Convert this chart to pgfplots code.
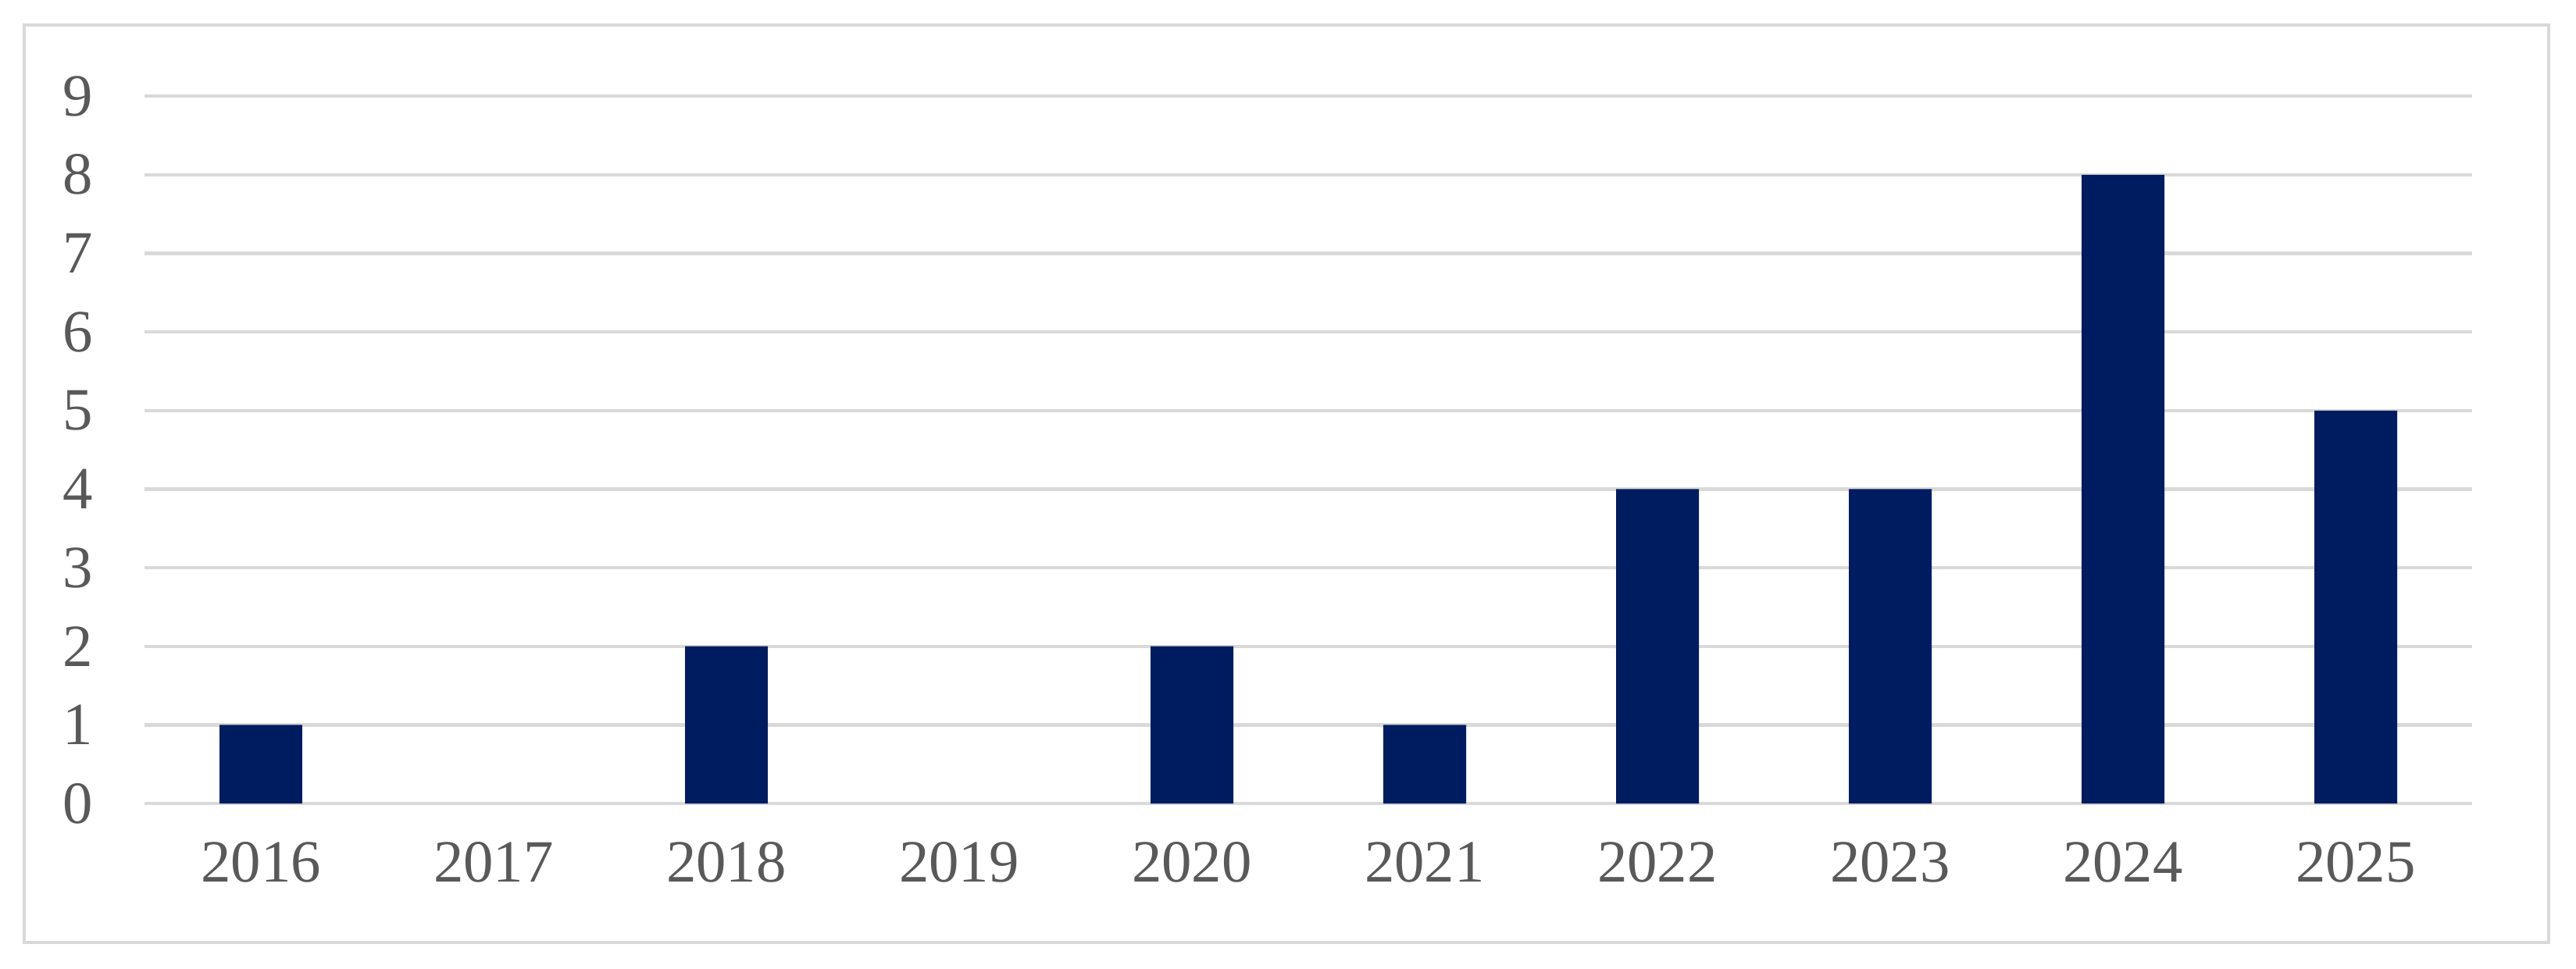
\documentclass[border=0pt]{standalone}
\usepackage{fontspec}
\setmainfont{Liberation Serif}
\usepackage{pgfplots}
\pgfplotsset{compat=1.18}
\definecolor{barnavy}{RGB}{0,28,96}
\definecolor{gridgray}{RGB}{217,217,217}
\definecolor{labelgray}{RGB}{89,89,89}

\begin{document}
\begin{tikzpicture}
% page size and outer chart frame (axis origin = lower left of plot area)
\path[use as bounding box, fill=white] (-0.8975,-1.028) rectangle (15.102,4.992);
\draw[gridgray, line width=0.6pt] (-0.747,-0.863) rectangle (14.931,4.836);
\begin{axis}[
  at={(0,0)}, anchor=south west,
  scale only axis,
  width=14.457cm, height=4.395cm,
  ybar,
  bar width=0.514cm,
  xmin=2015.5, xmax=2025.5,
  ymin=0, ymax=9,
  xtick={2016,...,2025},
  ytick={0,...,9},
  ymajorgrids,
  grid style={draw=gridgray, line width=0.6pt},
  axis line style={draw=none},
  major tick length=0pt,
  tick label style={font=\fontsize{10.6}{12}\selectfont, text=labelgray},
  /pgf/number format/assume math mode=true,
  /pgf/number format/1000 sep={},
  yticklabel style={anchor=east, inner sep=0pt, xshift=-0.315cm},
  xticklabel style={anchor=base, inner sep=0pt, yshift=-0.485cm},
]
\addplot[fill=barnavy, draw=none] coordinates {
  (2016,1) (2018,2) (2020,2) (2021,1) (2022,4) (2023,4) (2024,8) (2025,5)
};
\end{axis}
\end{tikzpicture}
\end{document}
